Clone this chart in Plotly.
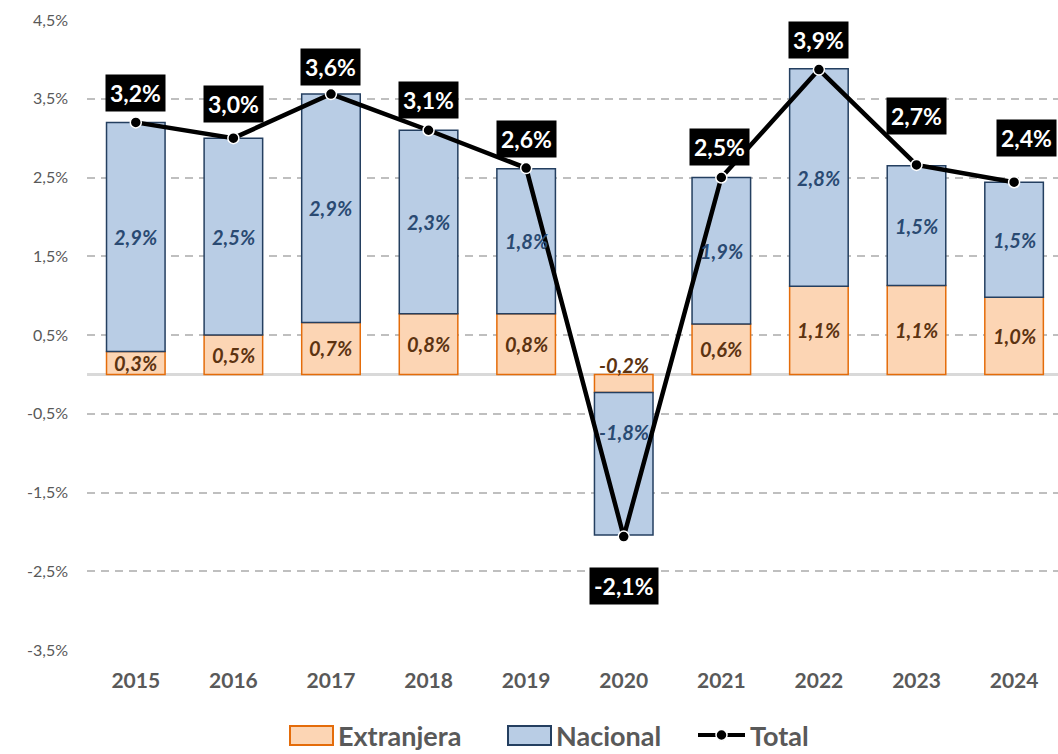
import plotly.graph_objects as go

years = ["2015", "2016", "2017", "2018", "2019", "2020", "2021", "2022", "2023", "2024"]
extranjera = [0.29, 0.50, 0.66, 0.77, 0.77, -0.23, 0.64, 1.12, 1.13, 0.98]
nacional = [2.91, 2.50, 2.90, 2.33, 1.84, -1.81, 1.86, 2.76, 1.52, 1.46]
total = [3.20, 3.00, 3.56, 3.10, 2.62, -2.06, 2.50, 3.87, 2.66, 2.44]
y_ticks = [-3.5, -2.5, -1.5, -0.5, 0.5, 1.5, 2.5, 3.5, 4.5]

# label offsets (pixels) for the total labels: (xshift, yshift)
total_label_shift = [(0, 29), (0, 34), (0, 27), (0, 30), (0, 29), (0, -49), (-2, 31), (0, 30), (0, 49), (12, 44)]

GRAY = "#595959"
FONT = "Lato"
W, H = 1058, 754
ML, MR, MT, MB = 87, 0, 20, 104
PW, PH = W - ML - MR, H - MT - MB


def fmt(v):
    return f"{v:.1f}".replace(".", ",") + "%"


def px(x):
    return (x - ML) / PW


def py(y):
    return (H - MB - y) / PH


fig = go.Figure()
fig.add_trace(go.Bar(
    x=years, y=extranjera, name="Extranjera", width=0.6,
    marker=dict(color="#FCD5B4", line=dict(color="#E46C0A", width=1.5)),
    showlegend=False,
))
fig.add_trace(go.Bar(
    x=years, y=nacional, name="Nacional", width=0.6,
    marker=dict(color="#B9CDE5", line=dict(color="#243F60", width=1.5)),
    showlegend=False,
))
fig.add_trace(go.Scatter(
    x=years, y=total, name="Total", mode="lines+markers",
    line=dict(color="black", width=4.5),
    marker=dict(color="black", size=11, line=dict(color="white", width=1.5)),
    showlegend=False,
))

ann = []
for i, yr in enumerate(years):
    e, n = extranjera[i], nacional[i]
    ey = e / 2
    ny = e + n / 2
    eshift, nshift = 0, 0
    if e < 0:
        ey = 0
        eshift = 9
        nshift = 32
    ann.append(dict(x=i, y=ey, yshift=eshift, text=f"<b><i>{fmt(e)}</i></b>", showarrow=False,
                    font=dict(family=FONT, size=20, color="#5C3311")))
    ann.append(dict(x=i, y=ny, yshift=nshift, text=f"<b><i>{fmt(n)}</i></b>", showarrow=False,
                    font=dict(family=FONT, size=20, color="#2A4A72")))
    xs, ys = total_label_shift[i]
    ann.append(dict(x=i, y=total[i], xshift=xs, yshift=ys, text=f"<b>{fmt(total[i])}</b>",
                    showarrow=False, bgcolor="black", borderpad=4,
                    font=dict(family=FONT, size=23, color="white")))

# custom legend
shapes = []
leg_y = 735
shapes.append(dict(type="rect", xref="paper", yref="paper", x0=px(290), x1=px(333),
                   y0=py(745), y1=py(726), fillcolor="#FCD5B4", line=dict(color="#E46C0A", width=2)))
shapes.append(dict(type="rect", xref="paper", yref="paper", x0=px(508), x1=px(551),
                   y0=py(745), y1=py(726), fillcolor="#B9CDE5", line=dict(color="#243F60", width=2)))
shapes.append(dict(type="line", xref="paper", yref="paper", x0=px(698), x1=px(745),
                   y0=py(leg_y), y1=py(leg_y), line=dict(color="black", width=4)))
shapes.append(dict(type="circle", xref="paper", yref="paper", x0=px(716), x1=px(727),
                   y0=py(leg_y + 5.5), y1=py(leg_y - 5.5), fillcolor="black", line=dict(color="white", width=1.5)))
for label, x0 in [("Extranjera", 336), ("Nacional", 554), ("Total", 748)]:
    ann.append(dict(xref="paper", yref="paper", x=px(x0), y=py(leg_y), xanchor="left",
                    yanchor="middle", text=f"<b>{label}</b>", showarrow=False,
                    font=dict(family=FONT, size=27, color=GRAY)))

fig.update_layout(
    width=W, height=H,
    margin=dict(l=ML, r=MR, t=MT, b=MB),
    barmode="relative",
    plot_bgcolor="white", paper_bgcolor="white",
    annotations=ann, shapes=shapes,
    font=dict(family=FONT, color=GRAY),
)
fig.update_xaxes(
    type="category", range=[-0.5, 9.45], showgrid=False, showline=False, ticks="",
    tickfont=dict(family=FONT, size=21, color=GRAY), ticklabelstandoff=16,
    tickprefix="<b>", ticksuffix="</b>",
)
fig.update_yaxes(
    range=[-3.5, 4.5], tickvals=y_ticks, ticktext=[fmt(v) for v in y_ticks],
    showgrid=True, gridcolor="#BFBFBF", gridwidth=1.5, griddash="8px,6px",
    zeroline=True, zerolinecolor="#D9D9D9", zerolinewidth=3,
    tickfont=dict(family=FONT, size=16, color=GRAY), ticklabelstandoff=18,
    showline=False, ticks="",
)
fig.write_html("out.html", config={"displayModeBar": False},
               post_script="document.body.style.margin='0';")
